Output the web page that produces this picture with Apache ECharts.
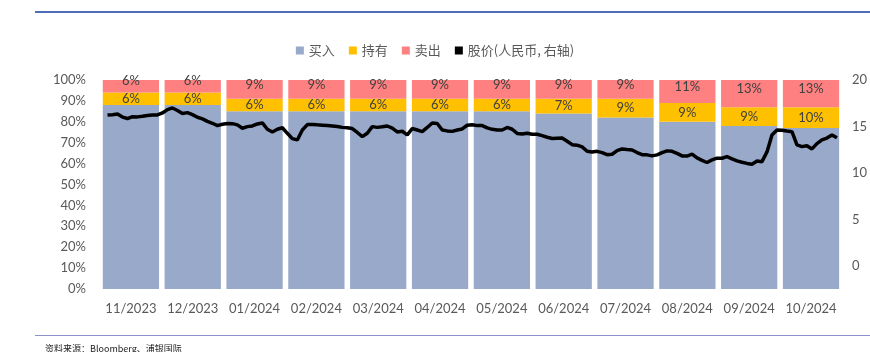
<!DOCTYPE html>
<html>
<head>
<meta charset="utf-8">
<script src="https://cdn.jsdelivr.net/npm/echarts@6/dist/echarts.min.js"></script>
<style>
  html, body { margin: 0; padding: 0; background: #fff; }
  #wrap { position: relative; width: 870px; height: 352px; overflow: hidden; }
  #chart { position: absolute; left: 0; top: 0; width: 870px; height: 352px; }
  .rule { position: absolute; left: 35px; right: 0; height: 0; }
  #topRule { top: 11px; border-top: 2px solid #4f6db8; }
  #bottomRule { top: 335px; border-top: 1px solid #8d8fc8; }
  #source { position: absolute; left: 45px; top: 342px; font: 9px "Noto Sans CJK SC", sans-serif; color: #222; }
</style>
</head>
<body>
<div id="wrap">
  <div id="topRule" class="rule"></div>
  <div id="chart"></div>
  <div id="bottomRule" class="rule"></div>
  <div id="source">资料来源：Bloomberg、浦银国际</div>
</div>
<script>
const months = ['11/2023', '12/2023', '01/2024', '02/2024', '03/2024', '04/2024', '05/2024', '06/2024', '07/2024', '08/2024', '09/2024', '10/2024'];
const buyPct = [88, 88, 85, 85, 85, 85, 85, 84, 82, 80, 78, 77];
const holdPct = [6, 6, 6, 6, 6, 6, 6, 7, 9, 9, 9, 10];
const sellPct = [6, 6, 9, 9, 9, 9, 9, 9, 9, 11, 13, 13];

// share price (RMB), evenly spaced trading samples
const price = [
  16.24, 16.27, 16.33, 16.01, 15.85, 16.05, 16.03, 16.09, 16.18, 16.24,
  16.24, 16.45, 16.81, 16.99, 16.72, 16.40, 16.49, 16.27, 15.99, 15.81,
  15.55, 15.34, 15.09, 15.24, 15.31, 15.30, 15.17, 14.81, 14.98, 15.05,
  15.27, 15.38, 14.70, 14.41, 14.70, 14.86, 14.26, 13.69, 13.55, 14.62,
  15.20, 15.21, 15.17, 15.14, 15.10, 15.05, 15.00, 14.90, 14.86, 14.77,
  14.35, 13.90, 14.27, 14.98, 14.90, 14.96, 15.05, 14.81, 14.41, 14.48,
  14.09, 14.78, 14.62, 14.45, 14.89, 15.37, 15.32, 14.62, 14.52, 14.47,
  14.62, 14.73, 15.13, 15.19, 15.09, 15.09, 14.84, 14.69, 14.62, 14.62,
  14.89, 14.70, 14.25, 14.18, 14.27, 14.16, 14.16, 14.01, 13.84, 13.71,
  13.74, 13.76, 13.41, 13.04, 12.98, 12.80, 12.33, 12.26, 12.32, 12.18,
  11.96, 12.01, 12.40, 12.58, 12.52, 12.47, 12.19, 11.96, 11.94, 11.83,
  11.94, 12.18, 12.37, 12.32, 12.10, 11.83, 11.81, 12.01, 11.61, 11.35,
  11.12, 11.40, 11.58, 11.58, 11.75, 11.51, 11.29, 11.14, 11.02, 10.94,
  11.28, 11.21, 12.26, 14.09, 14.62, 14.58, 14.50, 14.44, 13.01, 12.83,
  12.93, 12.58, 13.15, 13.55, 13.75, 14.09, 13.78
];
const rightTicks = [0, 5, 10, 15, 20];

const chart = echarts.init(document.getElementById('chart'));

const font = 'Lato, "Noto Sans CJK SC", sans-serif';
const pctLabel = {
  show: true,
  position: 'inside',
  color: '#404040',
  fontSize: 13,
  fontFamily: font,
  formatter: p => p.value + '%'
};

chart.setOption({
  animation: false,
  legend: {
    top: 39,
    left: 'center',
    itemWidth: 8,
    itemHeight: 8,
    itemGap: 14,
    textStyle: { color: '#595959', fontSize: 13, fontFamily: '"Noto Sans CJK SC", sans-serif' },
    data: [
      { name: '买入', icon: 'rect' },
      { name: '持有', icon: 'rect' },
      { name: '卖出', icon: 'rect' },
      { name: '股价(人民币, 右轴)', icon: 'rect' }
    ]
  },
  grid: { left: 100, right: 27, top: 80, bottom: 63 },
  xAxis: [
    {
      type: 'category',
      data: months,
      axisLine: { show: false },
      axisTick: { show: false },
      axisLabel: { color: '#595959', fontSize: 13, fontFamily: font, margin: 13, interval: 0 }
    },
    {
      type: 'value',
      show: false,
      min: -1.5,
      max: price.length
    }
  ],
  yAxis: [
    {
      type: 'value',
      min: 0,
      max: 100,
      interval: 10,
      axisLine: { show: false },
      axisTick: { show: false },
      splitLine: { show: false },
      axisLabel: { color: '#595959', fontSize: 13, fontFamily: font, margin: 14, formatter: '{value}%' }
    },
    {
      type: 'value',
      min: -2.5,
      max: 20,
      interval: 2.5,
      axisLine: { show: false },
      axisTick: { show: false },
      splitLine: { show: false },
      axisLabel: {
        color: '#595959', fontSize: 13, fontFamily: font, margin: 10,
        formatter: v => rightTicks.includes(v) ? String(v) : ''
      }
    }
  ],
  series: [
    {
      name: '买入', type: 'bar', stack: 'pct', barCategoryGap: '9%',
      itemStyle: { color: '#98a9c9' },
      data: buyPct
    },
    {
      name: '持有', type: 'bar', stack: 'pct',
      itemStyle: { color: '#ffc000' },
      label: pctLabel,
      data: holdPct
    },
    {
      name: '卖出', type: 'bar', stack: 'pct',
      itemStyle: { color: '#ff8080' },
      label: Object.assign({}, pctLabel, { offset: [0, -5] }),
      data: sellPct
    },
    {
      name: '股价(人民币, 右轴)', type: 'line',
      xAxisIndex: 1, yAxisIndex: 1,
      showSymbol: false,
      itemStyle: { color: '#000' },
      lineStyle: { color: '#000', width: 3.5 },
      data: price.map((v, i) => [i, v])
    }
  ]
});
</script>
</body>
</html>
